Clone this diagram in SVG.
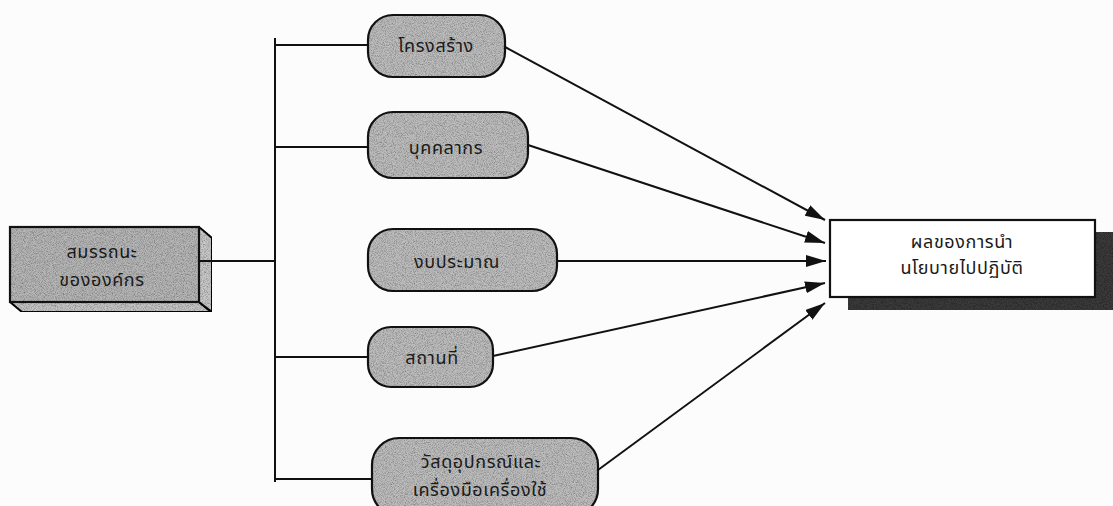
<svg xmlns="http://www.w3.org/2000/svg" width="1113" height="506" viewBox="0 0 1113 506">
  <style>
    .lbl { font-family: "Noto Sans Thai", "Noto Sans", "DejaVu Sans", sans-serif; font-size: 18px; letter-spacing: 0.6px; fill: #1a1a1a; text-anchor: middle; }
    .pill { fill: none; stroke: #111; stroke-width: 2.2; }
    .shade { fill: #bdbdbd; filter: url(#grain); }
    .wire { fill: none; stroke: #111; stroke-width: 2; }
    .arrow { fill: none; stroke: #111; stroke-width: 2; marker-end: url(#head); }
  </style>
  <defs>
    <marker id="head" viewBox="0 0 20 12" refX="20" refY="6" markerWidth="20" markerHeight="12" markerUnits="userSpaceOnUse" orient="auto">
      <path d="M0,0 L20,6 L0,12 Z" fill="#111"/>
    </marker>
    <!-- speckled grey texture for shaded shapes -->
    <filter id="grain" x="0" y="0" width="100%" height="100%">
      <feTurbulence type="fractalNoise" baseFrequency="1.1" numOctaves="2" seed="3" result="n"/>
      <feColorMatrix in="n" type="matrix" values="0 0 0 0 0  0 0 0 0 0  0 0 0 0 0  0 0 0 1.2 -0.45" result="dots"/>
      <feComposite in="dots" in2="SourceGraphic" operator="in" result="clip"/>
      <feMerge><feMergeNode in="SourceGraphic"/><feMergeNode in="clip"/></feMerge>
    </filter>
  </defs>
  <rect width="1113" height="506" fill="#fcfcfc"/>

  <g id="connectors">
    <!-- trunk from the organisation box -->
    <line class="wire" x1="199" y1="261" x2="275" y2="261"/>
    <line class="wire" x1="275" y1="38" x2="275" y2="482"/>
    <line class="wire" x1="274" y1="45" x2="369" y2="45"/>
    <line class="wire" x1="274" y1="147" x2="369" y2="147"/>
    <line class="wire" x1="274" y1="357" x2="369" y2="357"/>
    <line class="wire" x1="274" y1="479" x2="373" y2="479"/>
    <!-- arrows into the outcome box -->
    <line class="arrow" x1="505" y1="47" x2="825" y2="220"/>
    <line class="arrow" x1="528" y1="145" x2="825" y2="243"/>
    <line class="arrow" x1="557" y1="261" x2="826" y2="261"/>
    <line class="arrow" x1="493" y1="356" x2="825" y2="283"/>
    <line class="arrow" x1="598" y1="470" x2="825" y2="303"/>
  </g>

  <g id="node-organisation">
    <polygon points="10,302 199,302 211,312 22,312" fill="#c4c4c4" stroke="#111" stroke-width="2" filter="url(#grain)"/>
    <polygon points="199,227 212,238 212,312 199,302" fill="#c8c8c8" stroke="#111" stroke-width="2" filter="url(#grain)"/>
    <rect class="shade" x="10" y="227" width="189" height="75" style="fill:#b6b6b6"/>
    <rect x="10" y="227" width="189" height="75" fill="none" stroke="#111" stroke-width="2.2"/>
    <line class="wire" x1="199" y1="261" x2="212" y2="261"/>
    <text class="lbl" x="102" y="258">สมรรถนะ</text>
    <text class="lbl" x="102" y="286">ขององค์กร</text>
  </g>

  <g id="node-structure">
    <rect class="shade" x="368" y="15" width="137" height="62" rx="25"/>
    <rect class="pill" x="368" y="15" width="137" height="62" rx="25"/>
    <text class="lbl" x="436" y="52">โครงสร้าง</text>
  </g>

  <g id="node-personnel">
    <rect class="shade" x="368" y="112" width="160" height="66" rx="25"/>
    <rect class="pill" x="368" y="112" width="160" height="66" rx="25"/>
    <text class="lbl" x="446" y="154">บุคคลากร</text>
  </g>

  <g id="node-budget">
    <rect class="shade" x="368" y="229" width="189" height="62" rx="25"/>
    <rect class="pill" x="368" y="229" width="189" height="62" rx="25"/>
    <text class="lbl" x="457" y="268">งบประมาณ</text>
  </g>

  <g id="node-place">
    <rect class="shade" x="368" y="327" width="125" height="60" rx="23"/>
    <rect class="pill" x="368" y="327" width="125" height="60" rx="23"/>
    <text class="lbl" x="432" y="364">สถานที่</text>
  </g>

  <g id="node-equipment">
    <rect class="shade" x="372" y="438" width="226" height="78" rx="27"/>
    <rect class="pill" x="372" y="438" width="226" height="78" rx="27"/>
    <text class="lbl" x="481" y="468">วัสดุอุปกรณ์และ</text>
    <text class="lbl" x="480" y="496">เครื่องมือเครื่องใช้</text>
  </g>

  <g id="node-outcome">
    <rect x="848" y="232" width="270" height="78" fill="#3a3a3a" filter="url(#grain)"/>
    <rect x="830" y="220" width="265" height="77" fill="#ffffff" stroke="#111" stroke-width="2.2"/>
    <text class="lbl" x="962" y="248">ผลของการนำ</text>
    <text class="lbl" x="962" y="274">นโยบายไปปฏิบัติ</text>
  </g>
</svg>
